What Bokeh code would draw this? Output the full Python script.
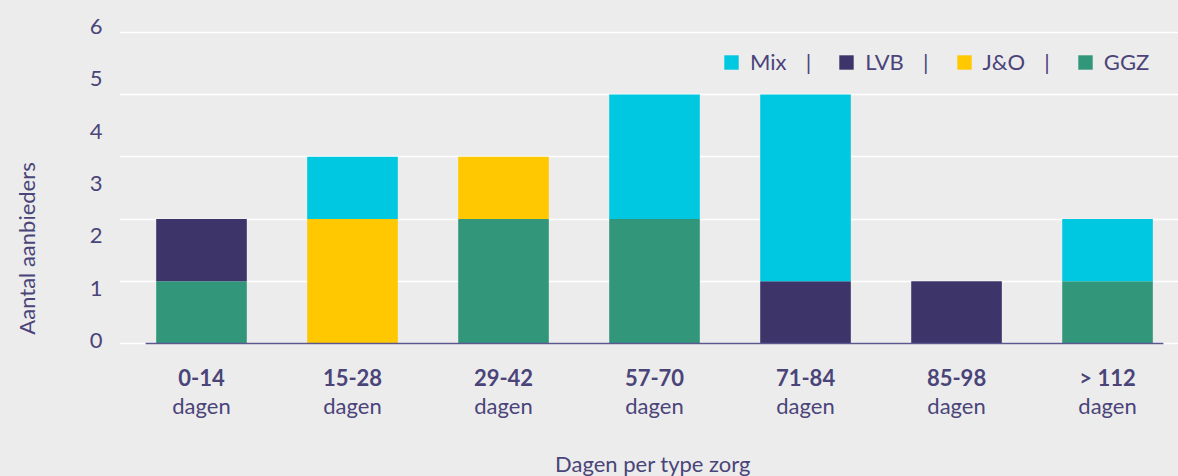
from bokeh.plotting import figure
from bokeh.models import (ColumnDataSource, Range1d, FixedTicker, Label, LabelSet,
                          Legend, LegendItem, InlineStyleSheet)
from bokeh.core.properties import value
from bokeh.embed import file_html
from bokeh.resources import INLINE

# ---- data ----
categories = ["0-14", "15-28", "29-42", "57-70", "71-84", "85-98", "> 112"]
sublabel = ["dagen"] * len(categories)
ggz = [1, 0, 2, 2, 0, 0, 1]
jo = [0, 2, 1, 0, 0, 0, 0]
lvb = [1, 0, 0, 0, 1, 1, 0]
mix = [0, 1, 0, 2, 3, 0, 1]
series = ["GGZ", "J&O", "LVB", "Mix"]
colors = ["#31967a", "#ffc800", "#3d3469", "#00c8e0"]
y_tick_labels = ["0", "1", "2", "3", "4", "5", "6"]
grid_values = [0, 1, 2, 3, 4, 5]

FONT = "Lato"
TXT = "#4a4479"
BG = "#ececec"
FS = "22px"

n = len(categories)
x = list(range(n))
src = ColumnDataSource(dict(x=x, cat=categories, sub=sublabel,
                            GGZ=ggz, **{"J&O": jo}, LVB=lvb, Mix=mix,
                            zero=[0] * n))

p = figure(width=1178, height=476, output_backend="svg", toolbar_location=None,
           x_range=Range1d(-0.543, 6.47), y_range=Range1d(-2.138, 5.19),
           x_axis_location=None,
           min_border_left=119, min_border_right=0, min_border_top=20,
           min_border_bottom=0)
p.background_fill_color = BG
p.border_fill_color = BG
p.outline_line_color = None
p.stylesheets = [InlineStyleSheet(css=":host { background-color: #ececec; }")]

# grid
p.xgrid.visible = False
p.ygrid.ticker = FixedTicker(ticks=grid_values)
p.ygrid.grid_line_color = "white"
p.ygrid.grid_line_width = 1.5

rs = p.vbar_stack(series, x="x", width=0.6, source=src, color=colors,
                  line_color=None)

# baseline
p.segment(x0=[-0.37], x1=[n - 1 + 0.37], y0=[0], y1=[0],
          line_color="#5d5790", line_width=1.5)

# y axis: labels spaced as in the source chart
start, step = 0.05, 0.84
ticks = [start + i * step for i in range(len(y_tick_labels))]
p.yaxis.ticker = FixedTicker(ticks=ticks)
p.yaxis.major_label_overrides = {t: lab for t, lab in zip(ticks, y_tick_labels)}
p.yaxis.axis_line_color = None
p.yaxis.major_tick_line_color = None
p.yaxis.minor_tick_line_color = None
p.yaxis.major_label_text_font = FONT
p.yaxis.major_label_text_font_size = FS
p.yaxis.major_label_text_color = TXT
p.yaxis.major_label_standoff = 11
p.yaxis.axis_label = "Aantal aanbieders"
p.yaxis.axis_label_text_font = FONT
p.yaxis.axis_label_text_font_size = FS
p.yaxis.axis_label_text_font_style = "normal"
p.yaxis.axis_label_text_color = TXT
p.yaxis.axis_label_standoff = 47

# category labels
p.add_layout(LabelSet(x="x", y="zero", text="cat", source=src, y_offset=-34,
                      text_align="center", text_baseline="middle",
                      text_font=value(FONT), text_font_size=value(FS),
                      text_font_style="bold", text_color=TXT))
p.add_layout(LabelSet(x="x", y="zero", text="sub", source=src, y_offset=-62,
                      text_align="center", text_baseline="middle",
                      text_font=value(FONT), text_font_size=value(FS),
                      text_color=TXT))

# x axis title
p.add_layout(Label(x=(x[0] + x[-1]) / 2 - 0.01, y=0, y_offset=-120,
                   text="Dagen per type zorg",
                   text_align="center", text_baseline="middle",
                   text_font=FONT, text_font_size=FS, text_color=TXT))

# legend (reverse stacking order)
sep = "\u2003\u2009|"
names_rev = list(reversed(series))
rend_rev = list(reversed(rs))
items = []
for i, (nm, r) in enumerate(zip(names_rev, rend_rev)):
    lab = nm + (sep if i < len(names_rev) - 1 else "")
    items.append(LegendItem(label=lab, renderers=[r]))
leg = Legend(items=items, orientation="horizontal", location=(603, 401),
             glyph_width=18, glyph_height=18, label_standoff=10, spacing=26,
             padding=0, margin=0, border_line_color=None,
             background_fill_alpha=0, label_text_font=FONT,
             label_text_font_size=FS, label_text_color=TXT)
p.add_layout(leg)

open("out.html", "w").write(file_html(p, INLINE))
